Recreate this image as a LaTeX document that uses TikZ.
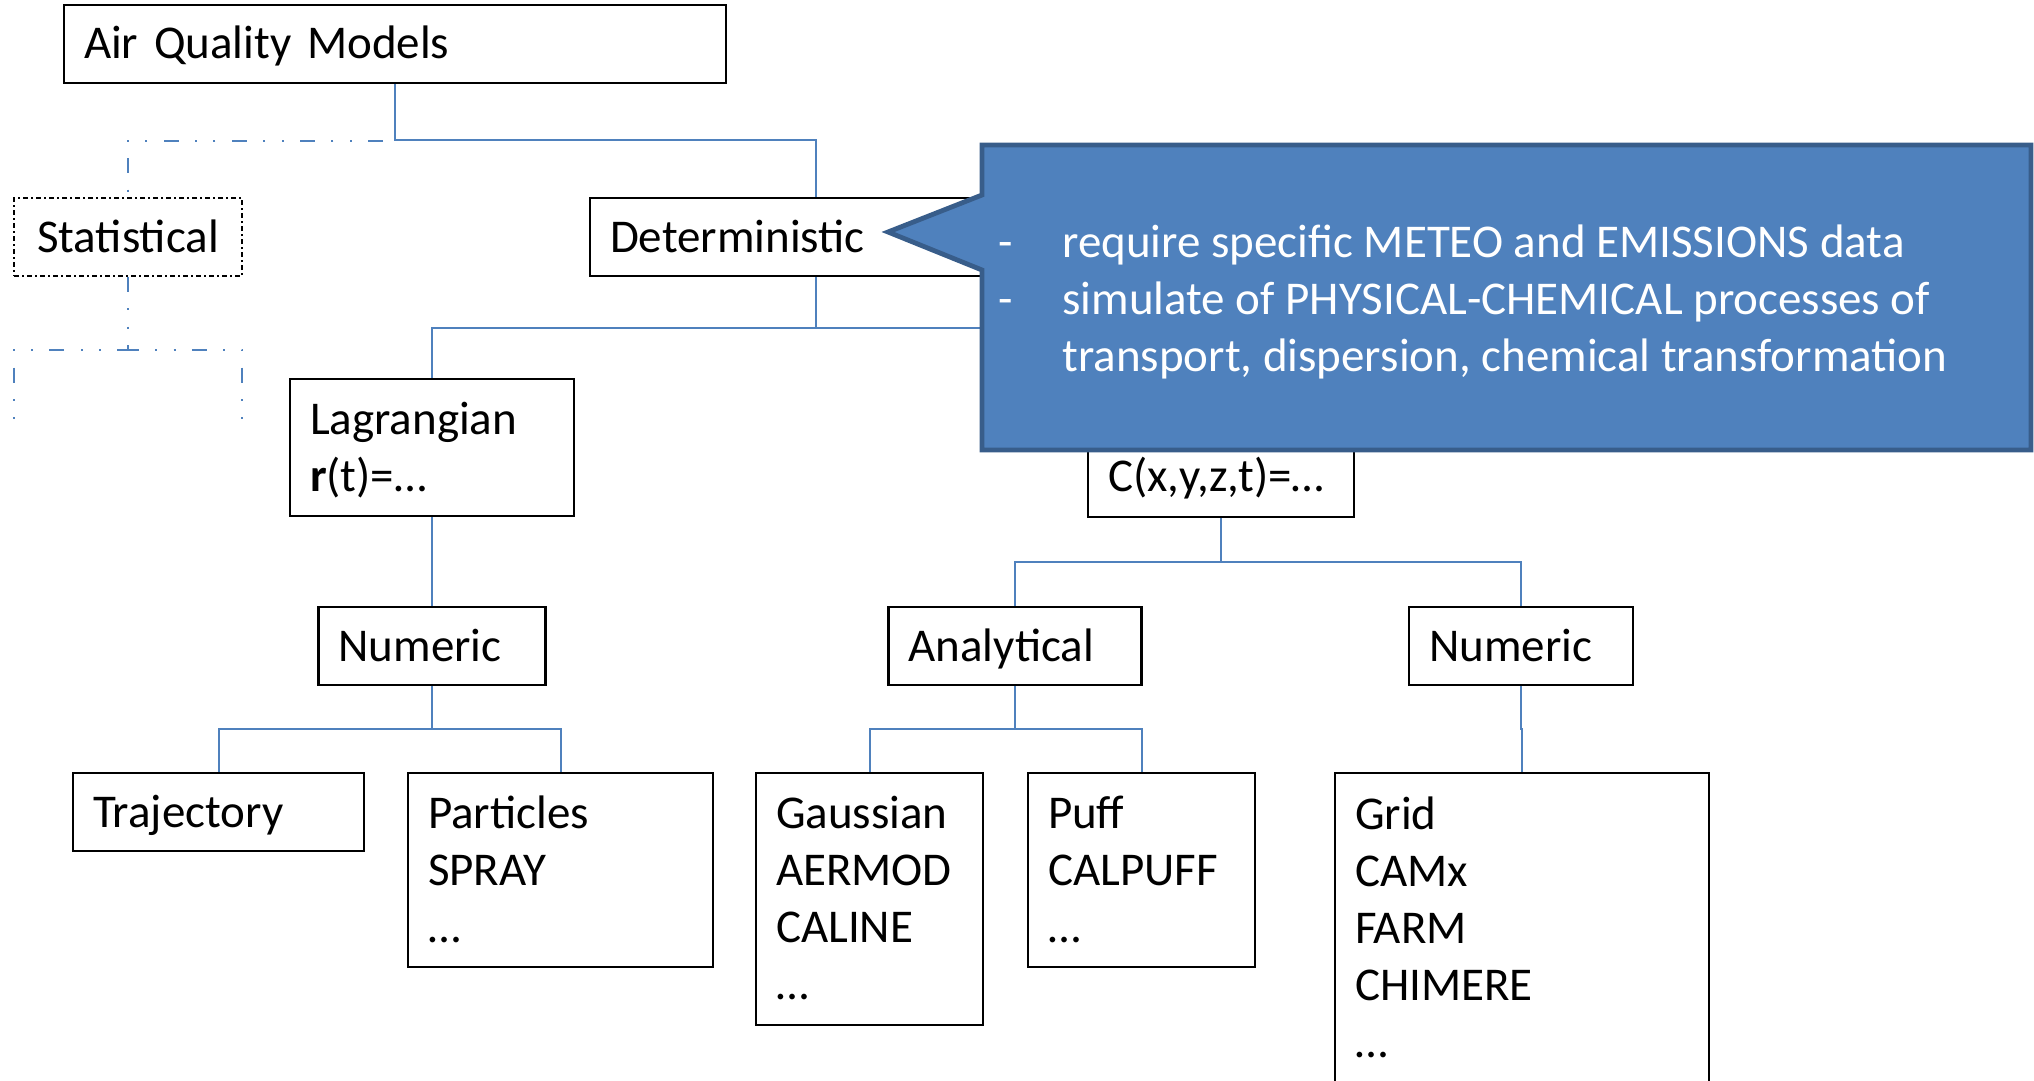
\documentclass[tikz,border=0pt]{standalone}
\usepackage{fontspec}
\setmainfont{Carlito}
\usetikzlibrary{calc}
\definecolor{linkblue}{RGB}{79,129,189}
\definecolor{noteedge}{RGB}{56,93,138}

\begin{document}
\begin{tikzpicture}[
    x=0.5pt, y=-0.5pt,
    box/.style={draw, line width=1.3pt, inner xsep=10pt, inner ysep=0pt, align=left,
      text height=15pt, text depth=0pt, font=\fontsize{23.5}{28.5}\selectfont},
    statbox/.style={line width=1pt, inner xsep=11.5pt, dash pattern=on 2.5pt off 1.5pt on 1pt off 1.5pt},
    link/.style={draw=linkblue, line width=1pt},
    dotlink/.style={link, dash pattern=on 7.5pt off 8.2pt on 1pt off 8.2pt on 1pt off 8.2pt},
    elbow/.style={to path={(\tikztostart) |- ($(\tikztostart)!0.5!(\tikztotarget)$) -| (\tikztotarget)}},
    note/.style={fill=linkblue, draw=noteedge, line width=2.4pt},
    notetext/.style={text=white, inner sep=0pt, font=\fontsize{23.5}{28.5}\selectfont},
  ]
  \useasboundingbox (0,0) rectangle (2034,1081);

  % tree boxes
  \node[box, text width=311pt, minimum height=39pt] (aqm) at (395,44) {Air Quality Models};
  \node[box, statbox, text width=91pt, minimum height=39pt] (stat) at (128,237) {Statistical};
  \node[box, text width=206pt, minimum height=39pt] (det) at (816,237) {Deterministic};
  \node[box, text width=122pt, minimum height=68.5pt, text depth=28.5pt] (lag) at (432,447.5) {Lagrangian\\\textbf{r}(t)=…};
  \node[box, text width=113pt, minimum height=69pt, text depth=28.5pt] (eul) at (1221,448) {\mbox{}\\C(x,y,z,t)=…};
  \node[box, text width=93.5pt, minimum height=39pt] (lnum) at (432,646) {Numeric};
  \node[box, text width=106.5pt, minimum height=39pt] (ana) at (1015,646) {Analytical};
  \node[box, text width=92pt, minimum height=39pt] (eunum) at (1521,646) {Numeric};
  \node[box, text width=125.5pt, minimum height=39pt] (traj) at (218.5,812) {Trajectory};
  \node[box, text width=132.5pt, minimum height=97pt, text depth=57pt] (part) at (560.5,870) {Particles\\SPRAY\\…};
  \node[box, text width=93.5pt, minimum height=126pt, text depth=85.5pt] (gauss) at (869.5,899) {Gaussian\\AERMOD\\CALINE\\…};
  \node[box, text width=93.5pt, minimum height=97pt, text depth=57pt] (puff) at (1141.5,870) {Puff\\CALPUFF\\…};
  \node[box, text width=167pt, minimum height=155pt, text depth=114pt] (grid) at (1522,928) {Grid\\CAMx\\FARM\\CHIMERE\\…};

  % statistical branch (dash-dot)
  \coordinate (stub1) at (14,422);
  \coordinate (stub2) at (242,422);
  \draw[dotlink] (aqm.south) to[elbow] (stat.north);
  \draw[dotlink] (stat.south) to[elbow] (stub1);
  \draw[dotlink] (stat.south) to[elbow] (stub2);

  % deterministic branch
  \draw[link] (aqm.south) to[elbow] (det.north);
  \draw[link] (det.south) to[elbow] (lag.north);
  \draw[link] (det.south) to[elbow] (eul.north);
  \draw[link] (lag.south) to[elbow] (lnum.north);
  \draw[link] (lnum.south) to[elbow] (traj.north);
  \draw[link] (lnum.south) to[elbow] (part.north);
  \draw[link] (eul.south) to[elbow] (ana.north);
  \draw[link] (eul.south) to[elbow] (eunum.north);
  \draw[link] (ana.south) to[elbow] (gauss.north);
  \draw[link] (ana.south) to[elbow] (puff.north);
  \draw[link] (eunum.south) to[elbow] (grid.north);

  % callout
  \coordinate (tip) at (888,232);
  \path[note] (982,145) -| (2031,450) -| (982,270) -- (tip) -- (982,195) -- cycle;
  \node[notetext, anchor=west] (notetxt) at (998,303) {%
    \begin{tabular}{@{}p{32pt}@{}l@{}}
      - & require specific METEO and EMISSIONS data\\
      - & simulate of PHYSICAL-CHEMICAL processes of\\
        & transport, dispersion, chemical transformation
    \end{tabular}};
\end{tikzpicture}
\end{document}
